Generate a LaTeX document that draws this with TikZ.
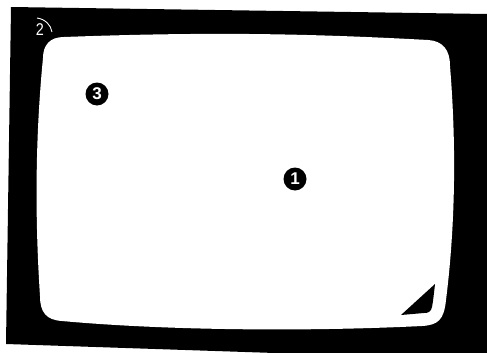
\documentclass[tikz,border=0pt]{standalone}
\usepackage{fontspec}
\setmainfont{Liberation Sans}
\begin{document}
\begin{tikzpicture}[x=1pt,y=-1pt,
  marker/.style={circle, fill=black, minimum size=23pt, inner sep=0pt, text=white, font=\fontsize{17}{17}\selectfont\bfseries},
  plainlabel/.style={inner sep=0pt, text=white, font=\fontsize{17}{17}\selectfont}]
\useasboundingbox (0,0) rectangle (487,353);
\fill[white] (0,0) rectangle (487,353);
% black frame
\fill[black] (11,7) -- (487,14) -- (487,353) -- (275,353) -- (6,344) -- cycle;
% white screen
\fill[white] (43,58) .. controls (43,45) and (50,37) .. (64,37)
  .. controls (200,32) and (300,33) .. (428,40)
  .. controls (443,41) and (450,50) .. (450,66)
  .. controls (456,140) and (456,220) .. (446,300)
  .. controls (444,320) and (438,325) .. (422,326)
  .. controls (300,332) and (160,330) .. (62,321)
  .. controls (46,320) and (40,312) .. (40,296)
  .. controls (35,220) and (35,140) .. (43,58) -- cycle;
% corner triangle
\fill[black] (435,284) .. controls (434,293) and (433,302) .. (432,307)
  .. controls (431,312) and (428,313) .. (424,313)
  -- (401,315) -- cycle;
% labels
\node[marker] (n1) at (295,179) {1};
\node[marker] (n3) at (97,94) {3};
\node[plainlabel, xscale=0.85] (n2) at (40,30) {2};
\draw[white, line width=0.9pt] (37,18) .. controls (45,19) and (51,25) .. (52,32);
\end{tikzpicture}
\end{document}
